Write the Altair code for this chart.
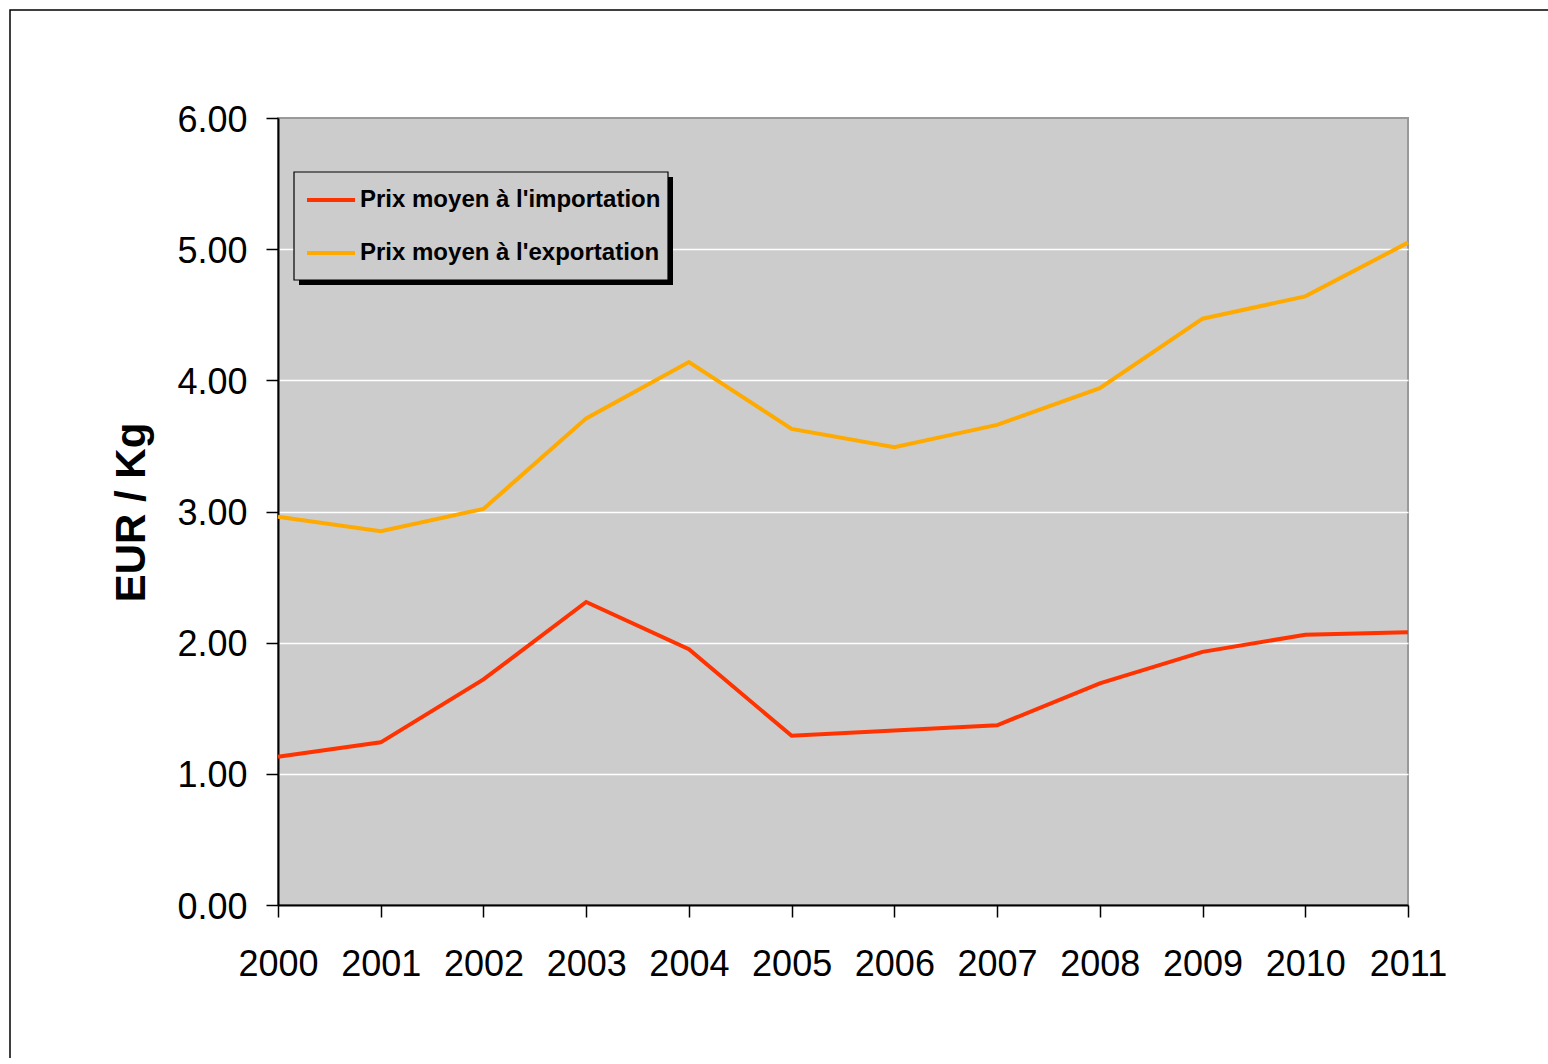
import altair as alt
import pandas as pd

years = list(range(2000, 2012))
import_prices = [1.13, 1.24, 1.72, 2.31, 1.95, 1.29, 1.33, 1.37, 1.69, 1.93, 2.06, 2.08]
export_prices = [2.96, 2.85, 3.02, 3.71, 4.14, 3.63, 3.49, 3.66, 3.94, 4.47, 4.64, 5.05]
series_names = ["Prix moyen à l'importation", "Prix moyen à l'exportation"]
series_colors = ["#ff3300", "#ffaa00"]
y_ticks = [0, 1, 2, 3, 4, 5, 6]

rows = []
for y, v in zip(years, import_prices):
    rows.append({"year": y, "value": v, "series": series_names[0]})
for y, v in zip(years, export_prices):
    rows.append({"year": y, "value": v, "series": series_names[1]})
df = pd.DataFrame(rows)

FONT = "Liberation Sans"

# Plot area: x 278..1408, y 118..905 (absolute page pixels)
W, H = 1130, 787
LEFT, TOP = 278, 118

one = alt.Data(values=[{"k": 1}])

frame = alt.Chart(one).mark_rect(fill="transparent", stroke="black", strokeWidth=1.5).encode(
    x=alt.value(10 - LEFT), x2=alt.value(3000),
    y=alt.value(10 - TOP), y2=alt.value(3000),
)

shadow = alt.Chart(one).mark_rect(fill="black").encode(
    x=alt.value(299 - LEFT), x2=alt.value(673 - LEFT),
    y=alt.value(177 - TOP), y2=alt.value(285 - TOP),
)
legend_box = alt.Chart(one).mark_rect(fill="#cccccc", stroke="black", strokeWidth=1.2).encode(
    x=alt.value(294 - LEFT), x2=alt.value(668 - LEFT),
    y=alt.value(172 - TOP), y2=alt.value(280 - TOP),
)

lines = alt.Chart(df).mark_line(strokeWidth=4).encode(
    x=alt.X("year:Q",
            scale=alt.Scale(domain=[2000, 2011], nice=False, zero=False),
            axis=alt.Axis(values=years, format="d", title=None, grid=False,
                          tickSize=12, tickColor="black", tickWidth=1.5,
                          domainColor="black", domainWidth=2,
                          labelFont=FONT, labelFontSize=36, labelColor="black",
                          labelPadding=30, labelFlush=False, labelOverlap=False)),
    y=alt.Y("value:Q",
            scale=alt.Scale(domain=[0, 6], nice=False),
            axis=alt.Axis(values=y_ticks, format=".2f", title="EUR / Kg",
                          grid=True,
                          gridColor={"condition": {"test": "datum.value == 0 || datum.value == 6",
                                                   "value": "transparent"},
                                     "value": "white"},
                          gridWidth=1.5,
                          tickSize=12, tickColor="black", tickWidth=1.5,
                          domainColor="black", domainWidth=2,
                          labelFont=FONT, labelFontSize=36, labelColor="black",
                          labelPadding=19, labelOffset=2,
                          titleFont=FONT, titleFontSize=42, titleFontWeight="bold",
                          titleColor="black", titleAngle=270,
                          titleBaseline="alphabetic", titleAlign="center",
                          titleX=144 - LEFT, titleY=394)),
    color=alt.Color("series:N",
                    scale=alt.Scale(domain=series_names, range=series_colors),
                    legend=alt.Legend(title=None, orient="none",
                                      legendX=305 - LEFT, legendY=174 - TOP,
                                      symbolType="stroke", symbolSize=2304,
                                      symbolStrokeWidth=4,
                                      labelFont=FONT, labelFontSize=24,
                                      labelFontWeight="bold", labelColor="black",
                                      labelLimit=600, labelOffset=3,
                                      padding=0, rowPadding=15,
                                      zindex=2)),
)

chart = alt.layer(frame, shadow, legend_box, lines).properties(
    width=W, height=H,
    autosize=alt.AutoSizeParams(type="none"),
    padding={"left": LEFT, "top": TOP, "right": 1548 - 1408, "bottom": 1058 - 905},
    background="white",
).configure_view(
    fill="#cccccc", stroke="#999999", strokeWidth=2,
)

chart.save("out.html", embed_options={"renderer": "svg", "actions": False})
